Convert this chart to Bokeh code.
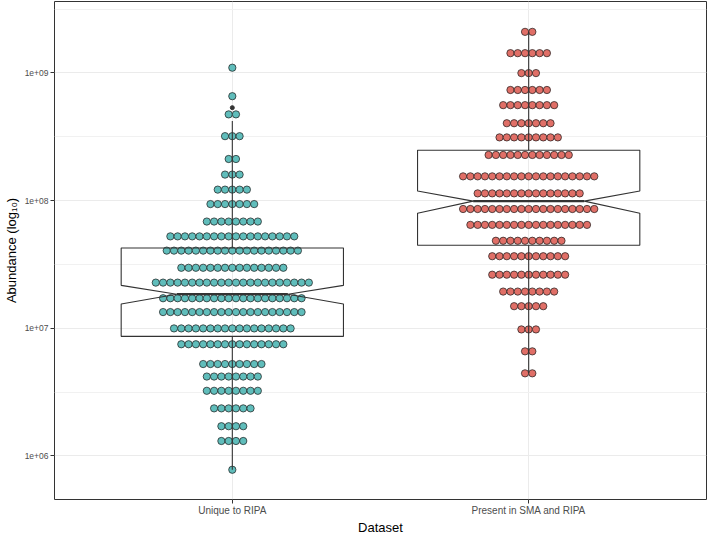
import numpy as np
from bokeh.plotting import figure
from bokeh.models import Range1d, FixedTicker, Title
from bokeh.embed import file_html
from bokeh.resources import INLINE

# ---------------- data ----------------
categories = ["Unique to RIPA", "Present in SMA and RIPA"]
cat_pos = [1, 2]

# dot-plot rows: bin centre (abundance) and number of dots in that row
ripa_bins = [1.10e9, 6.58e8, 4.74e8, 3.20e8, 2.12e8, 1.60e8, 1.22e8, 9.4e7,
             6.86e7, 5.25e7, 4.06e7, 2.98e7, 2.28e7, 1.72e7, 1.34e7, 9.98e6,
             7.50e6, 5.25e6, 4.19e6, 3.24e6, 2.36e6, 1.71e6, 1.31e6, 7.8e5]
ripa_counts = [1, 1, 2, 3, 2, 3, 5, 7, 8, 18, 19, 15, 22, 20, 20, 17, 15,
               9, 8, 8, 6, 4, 4, 1]

both_bins = [2.10e9, 1.43e9, 9.98e8, 7.36e8, 5.60e8, 4.04e8, 3.13e8, 2.28e8,
             1.55e8, 1.14e8, 8.6e7, 6.46e7, 4.85e7, 3.67e7, 2.63e7, 1.94e7,
             1.49e7, 9.8e6, 6.6e6, 4.44e6]
both_counts = [2, 6, 3, 6, 8, 7, 9, 12, 19, 15, 19, 17, 10, 11, 11, 8, 5,
               3, 2, 2]

# notched box-plot statistics per category
box_q1 = [8.65e6, 4.47e7]
box_median = [1.85e7, 9.91e7]
box_q3 = [4.26e7, 2.48e8]
notch_lower = [1.55e7, 7.96e7]
notch_upper = [2.17e7, 1.19e8]
whisker_low = [7.8e5, 4.44e6]
whisker_high = [4.21e8, 2.10e9]
outlier_cat = [1]
outlier_val = [5.35e8]

y_tick_values = [1e6, 1e7, 1e8, 1e9]
y_tick_labels = ["1e+06", "1e+07", "1e+08", "1e+09"]
y_minor_values = [10 ** 5.5, 10 ** 6.5, 10 ** 7.5, 10 ** 8.5, 10 ** 9.5]

x_title = "Dataset"
y_title = "Abundance (log\u2081\u2080)"

colors = ["#60BDBB", "#E06F67"]

# ---------------- figure ----------------
W, H = 708, 534
Y_LO, Y_HI = 5.659, 9.560
p = figure(width=W, height=H, y_axis_type="log", output_backend="svg",
           toolbar_location=None,
           x_range=Range1d(0.4, 2.6),
           y_range=Range1d(10 ** Y_LO, 10 ** Y_HI),
           min_border_left=0, min_border_right=2, min_border_top=1,
           min_border_bottom=0)
p.background_fill_color = "white"
p.border_fill_color = "white"
p.outline_line_color = "#333333"
p.outline_line_width = 1

# grid
p.xgrid.ticker = FixedTicker(ticks=cat_pos)
p.xgrid.grid_line_color = "#EBEBEB"
p.ygrid.grid_line_color = "#EBEBEB"
p.ygrid.minor_grid_line_color = "#F1F1F1"

# dots
dot_px = 7.3
frame_w_est = 653.0
dx = dot_px / (frame_w_est / 2.2)
for pos, bins, counts, col in [(1, ripa_bins, ripa_counts, colors[0]),
                               (2, both_bins, both_counts, colors[1])]:
    xs, ys = [], []
    for b, n in zip(bins, counts):
        for k in range(n):
            xs.append(pos + (k - (n - 1) / 2.0) * dx)
            ys.append(b)
    p.scatter(x=xs, y=ys, size=dot_px, fill_color=col, line_color="#1a1a1a",
              line_width=0.7)

# notched boxes (transparent fill, drawn over the dots)
bw = 0.75
notch_w = 0.5
for i, pos in enumerate(cat_pos):
    xmin, xmax = pos - bw / 2, pos + bw / 2
    ind = (1 - notch_w) * bw / 2
    bx = [xmin, xmin, xmin + ind, xmin, xmin, xmax, xmax, xmax - ind, xmax, xmax]
    by = [box_q3[i], notch_upper[i], box_median[i], notch_lower[i], box_q1[i],
          box_q1[i], notch_lower[i], box_median[i], notch_upper[i], box_q3[i]]
    p.patch(bx, by, fill_color=None, line_color="#333333", line_width=1.1)
    p.segment(x0=[xmin + ind], y0=[box_median[i]], x1=[xmax - ind],
              y1=[box_median[i]], line_color="#333333", line_width=2.2)
    p.segment(x0=[pos, pos], y0=[box_q3[i], box_q1[i]], x1=[pos, pos],
              y1=[whisker_high[i], whisker_low[i]], line_color="#333333",
              line_width=1.1)

p.scatter(x=outlier_cat, y=outlier_val, size=4, fill_color="#333333",
          line_color="#333333")

# axes
p.xaxis.ticker = FixedTicker(ticks=cat_pos)
p.xaxis.major_label_overrides = {pos: c for pos, c in zip(cat_pos, categories)}
p.yaxis.ticker = FixedTicker(ticks=y_tick_values, minor_ticks=y_minor_values)
p.yaxis.major_label_overrides = {v: l for v, l in zip(y_tick_values, y_tick_labels)}

for ax in (p.xaxis, p.yaxis):
    ax.axis_line_color = None
    ax.major_tick_line_color = "#333333"
    ax.major_tick_out = 4
    ax.major_tick_in = 0
    ax.minor_tick_line_color = None
    ax.major_label_text_font = "Liberation Sans"
    ax.major_label_text_color = "#4D4D4D"
    ax.major_label_standoff = 2
    ax.axis_label_text_font = "Liberation Sans"
    ax.axis_label_text_font_size = "13px"
    ax.axis_label_text_font_style = "normal"
    ax.axis_label_text_color = "black"
    ax.axis_label_standoff = 3

p.xaxis.major_label_standoff = 1
p.xaxis.major_label_text_font_size = "10px"
p.yaxis.major_label_text_font_size = "8.5px"
p.yaxis.axis_label = y_title

p.add_layout(Title(text=x_title, align="center", text_font="Liberation Sans",
                   text_font_size="13px", text_font_style="normal",
                   text_color="black", standoff=-1, offset=0), "below")

open("out.html", "w").write(file_html(p, INLINE))
